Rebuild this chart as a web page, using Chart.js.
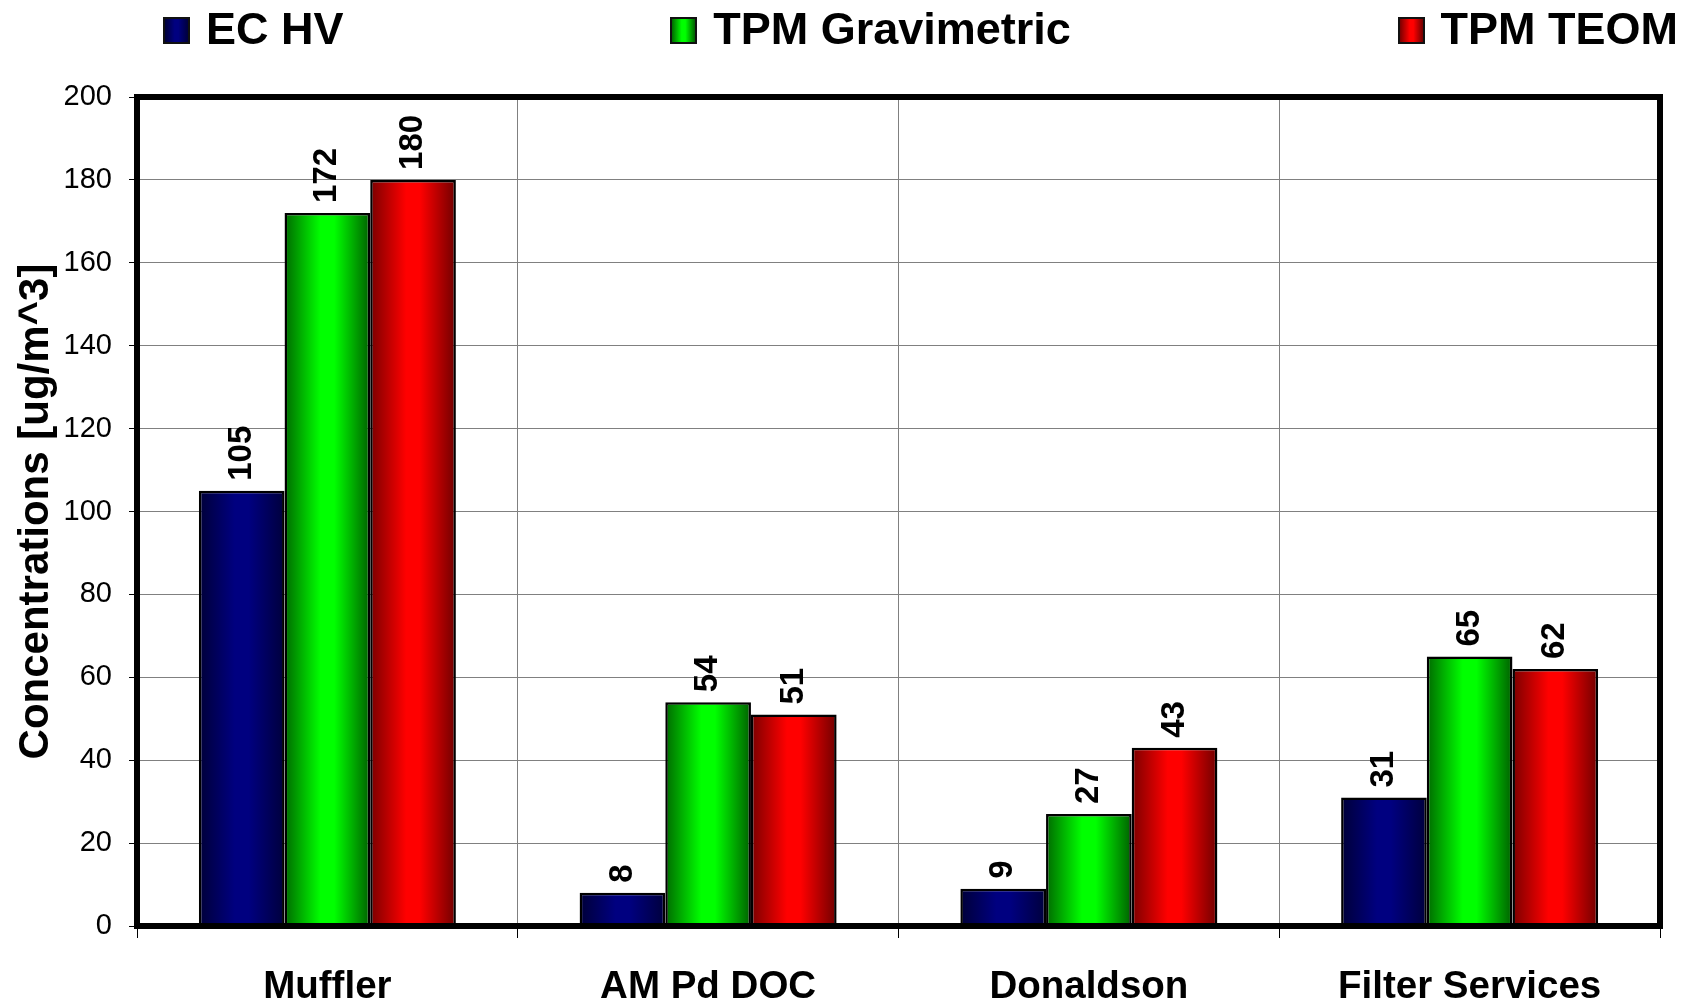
<!DOCTYPE html>
<html>
<head>
<meta charset="utf-8">
<title>Concentrations</title>
<script src="https://cdn.jsdelivr.net/npm/chart.js@4.4.1/dist/chart.umd.min.js"></script>
<style>
  html, body { margin: 0; padding: 0; background: #fff; }
  #wrap { position: relative; width: 1691px; height: 1006px; }
  #legend {
    position: absolute; top: 6px; left: 163px; right: 13px; height: 44px;
    display: flex; justify-content: space-between; align-items: center;
    font: bold 45px "Liberation Sans", Arial, sans-serif; color: #000;
  }
  #legend .item { display: flex; align-items: center; line-height: 1; white-space: nowrap; }
  #legend .box {
    width: 27px; height: 27px; box-sizing: border-box; border: 2px solid #111;
    margin-top: 4px; margin-right: 16px;
  }
</style>
</head>
<body>
<div id="wrap">
  <canvas id="myChart" width="1691" height="1006"></canvas>
  <div id="legend"></div>
</div>
<script>
// bar chart - concentrations per filter
var categories = ["Muffler", "AM Pd DOC", "Donaldson", "Filter Services"];
var seriesNames = ["EC HV", "TPM Gravimetric", "TPM TEOM"];
var ecHv = [105, 8, 9, 31];
var tpmGravimetric = [172, 54, 27, 65];
var tpmTeom = [180, 51, 43, 62];
var yMin = 0, yMax = 200, yStep = 20;

// dark edge / bright middle for each series
var shades = [
  ["#000038", "#000080", "#00003c"],
  ["#006a00", "#00ff00", "#006000"],
  ["#7a0000", "#ff0000", "#700000"]
];
var groupPercent = 0.675;
var fontFamily = '"Liberation Sans", Arial, sans-serif';

function barFill(ctx) {
  var s = shades[ctx.datasetIndex];
  var chart = ctx.chart;
  var xs = chart.scales.x;
  if (!xs || ctx.type !== 'data') return s[1];
  var catW = xs.width / categories.length;
  var barW = catW * groupPercent / seriesNames.length;
  var left = xs.getPixelForValue(ctx.dataIndex) - catW * groupPercent / 2 + ctx.datasetIndex * barW;
  if (!isFinite(left) || !isFinite(barW) || barW <= 0) return s[1];
  var g = chart.ctx.createLinearGradient(left, 0, left + barW, 0);
  g.addColorStop(0, s[0]);
  g.addColorStop(0.42, s[1]);
  g.addColorStop(0.58, s[1]);
  g.addColorStop(1, s[2]);
  return g;
}

// vertical value labels above bars
var barValueLabels = {
  id: 'barValueLabels',
  afterDatasetsDraw: function (chart) {
    var c = chart.ctx;
    c.save();
    c.font = 'bold 33px ' + fontFamily;
    c.fillStyle = '#000';
    c.textAlign = 'left';
    c.textBaseline = 'middle';
    chart.data.datasets.forEach(function (ds, i) {
      chart.getDatasetMeta(i).data.forEach(function (bar, j) {
        c.save();
        c.translate(bar.x, bar.y - 10);
        c.rotate(-Math.PI / 2);
        c.fillText(String(ds.data[j]), 0, 0);
        c.restore();
      });
    });
    c.restore();
  }
};

// thick frame round the plot area
var plotFrame = {
  id: 'plotFrame',
  afterDraw: function (chart) {
    var a = chart.chartArea, c = chart.ctx;
    c.save();
    c.strokeStyle = '#000';
    c.lineWidth = 6;
    c.strokeRect(a.left, a.top, a.right - a.left, a.bottom - a.top);
    c.restore();
  }
};

var seriesData = [ecHv, tpmGravimetric, tpmTeom];

new Chart("myChart", {
  type: "bar",
  data: {
    labels: categories,
    datasets: seriesData.map(function (d, i) {
      return {
        label: seriesNames[i],
        data: d,
        backgroundColor: barFill,
        borderColor: "#000",
        borderWidth: 2.5,
        borderSkipped: false,
        categoryPercentage: groupPercent,
        barPercentage: 1
      };
    })
  },
  options: {
    responsive: false,
    animation: false,
    events: [],
    layout: { padding: { top: 97, right: 31, bottom: 2, left: 0 } },
    plugins: {
      legend: { display: false },
      tooltip: { enabled: false }
    },
    scales: {
      x: {
        afterFit: function (scale) { scale.height = 78; },
        grid: { offset: true, color: "#808080", lineWidth: 1, tickLength: 12, tickColor: "#000", tickWidth: 1 },
        border: { display: false },
        ticks: { color: "#000", padding: 30, font: { family: fontFamily, size: 38.5, weight: "bold", lineHeight: 1 } }
      },
      y: {
        min: yMin,
        max: yMax,
        afterFit: function (scale) { scale.width = 137; },
        grid: { color: "#808080", lineWidth: 1, tickLength: 8, tickColor: "#000", tickWidth: 1 },
        border: { display: false },
        ticks: { stepSize: yStep, color: "#000", padding: 17, font: { family: fontFamily, size: 29 } },
        title: {
          display: true,
          text: "Concentrations [ug/m^3]",
          color: "#000",
          padding: { top: 11, bottom: 7 },
          font: { family: fontFamily, size: 42, weight: "bold", lineHeight: 1.2 }
        }
      }
    }
  },
  plugins: [barValueLabels, plotFrame]
});

// legend row across the top
var legend = document.getElementById('legend');
seriesNames.forEach(function (name, i) {
  var s = shades[i];
  var item = document.createElement('div');
  item.className = 'item';
  var box = document.createElement('span');
  box.className = 'box';
  box.style.background = 'linear-gradient(to right, ' + s[0] + ', ' + s[1] + ' 42%, ' + s[1] + ' 58%, ' + s[2] + ')';
  var txt = document.createElement('span');
  txt.textContent = name;
  item.appendChild(box);
  item.appendChild(txt);
  legend.appendChild(item);
});
</script>
</body>
</html>
